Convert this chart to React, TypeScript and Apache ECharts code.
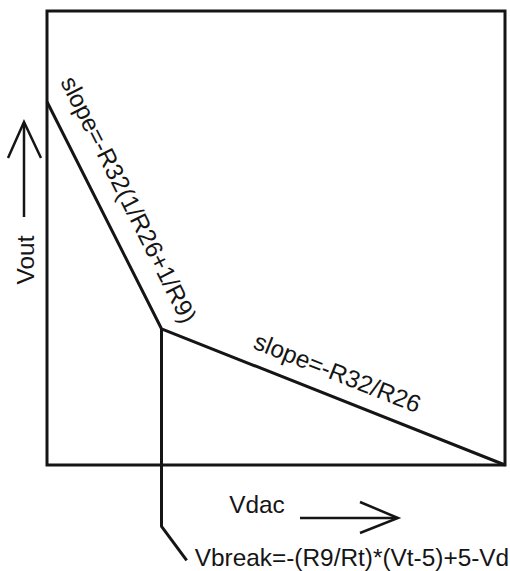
import React, { useEffect, useRef } from "react";
import * as echarts from "echarts";

// Transfer characteristic: Vout as a function of Vdac (schematic units)
const vdac = [0, 25, 100];
const vout = [80, 30, 0];
// Leader from the break point down to the Vbreak formula
const leaderX = [25, 25, 30.5];
const leaderY = [30, -13.5, -21];
const slopeLabels = ["slope=-R32(1/R26+1/R9)", "slope=-R32/R26"];
const xAxisName = "Vdac";
const yAxisName = "Vout";
const vbreakLabel = "Vbreak=-(R9/Rt)*(Vt-5)+5-Vd";

const FONT = '24.4px "Liberation Sans", Arial, sans-serif';
const INK = "#151515";

export default function App() {
  const ref = useRef<HTMLDivElement>(null);
  useEffect(() => {
    document.body.style.margin = "0";
    const chart = echarts.init(ref.current!, null, { renderer: "svg" });
    const lineStyle = { color: INK, width: 3 };
    chart.setOption({
      animation: false,
      backgroundColor: "#fff",
      grid: {
        show: true,
        left: 47,
        top: 11,
        width: 458,
        height: 454,
        borderColor: INK,
        borderWidth: 3,
        backgroundColor: "transparent",
      },
      xAxis: {
        type: "value",
        min: 0,
        max: 100,
        axisLine: { show: false },
        axisTick: { show: false },
        axisLabel: { show: false },
        splitLine: { show: false },
      },
      yAxis: {
        type: "value",
        min: 0,
        max: 100,
        axisLine: { show: false },
        axisTick: { show: false },
        axisLabel: { show: false },
        splitLine: { show: false },
      },
      series: [
        {
          type: "line",
          data: vdac.map((x, i) => [x, vout[i]]),
          symbol: "none",
          lineStyle,
          clip: false,
        },
        {
          type: "line",
          data: leaderX.map((x, i) => [x, leaderY[i]]),
          symbol: "none",
          lineStyle,
          clip: false,
        },
      ],
    });

    const px = (x: number, y: number) =>
      chart.convertToPixel({ gridIndex: 0 }, [x, y]) as number[];

    const slopeText = (i: number, along: number, off: number) => {
      const p0 = px(vdac[i], vout[i]);
      const p1 = px(vdac[i + 1], vout[i + 1]);
      const dx = p1[0] - p0[0];
      const dy = p1[1] - p0[1];
      const len = Math.hypot(dx, dy);
      const u = [dx / len, dy / len];
      const n = [u[1], -u[0]];
      const mx = (p0[0] + p1[0]) / 2 + along * u[0] + off * n[0];
      const my = (p0[1] + p1[1]) / 2 + along * u[1] + off * n[1];
      return {
        type: "text",
        x: mx,
        y: my,
        rotation: -Math.atan2(dy, dx),
        style: {
          text: slopeLabels[i],
          font: FONT,
          fill: INK,
          align: "center",
          verticalAlign: "middle",
          textAlign: "center",
          textVerticalAlign: "middle",
        },
      };
    };

    const lead = px(leaderX[2], leaderY[2]);

    chart.setOption({
      graphic: [
        slopeText(0, -3, 29),
        slopeText(1, -5, 24),
        // Vout label and up arrow
        {
          type: "text",
          x: 25,
          y: 260,
          rotation: Math.PI / 2,
          style: {
            text: yAxisName,
            font: FONT,
            fill: INK,
            align: "center",
            verticalAlign: "middle",
            textAlign: "center",
            textVerticalAlign: "middle",
          },
        },
        {
          type: "line",
          shape: { x1: 24, y1: 217, x2: 24, y2: 123 },
          style: { stroke: INK, lineWidth: 2.5 },
        },
        {
          type: "polyline",
          shape: { points: [[8, 158], [24, 122], [41, 158]] },
          style: { stroke: INK, lineWidth: 2.5, fill: null },
        },
        // Vdac label and right arrow
        {
          type: "text",
          x: 257,
          y: 504,
          style: {
            text: xAxisName,
            font: FONT,
            fill: INK,
            align: "center",
            verticalAlign: "middle",
            textAlign: "center",
            textVerticalAlign: "middle",
          },
        },
        {
          type: "line",
          shape: { x1: 300, y1: 518, x2: 397, y2: 518 },
          style: { stroke: INK, lineWidth: 2.5 },
        },
        {
          type: "polyline",
          shape: { points: [[360, 502], [398, 518], [360, 533]] },
          style: { stroke: INK, lineWidth: 2.5, fill: null },
        },
        // Vbreak formula
        {
          type: "text",
          x: lead[0] + 8,
          y: lead[1] - 3,
          style: {
            text: vbreakLabel,
            font: FONT,
            fill: INK,
            align: "left",
            verticalAlign: "middle",
            textAlign: "left",
            textVerticalAlign: "middle",
          },
        },
      ],
    });
    return () => chart.dispose();
  }, []);
  return <div ref={ref} style={{ width: 510, height: 571 }} />;
}
